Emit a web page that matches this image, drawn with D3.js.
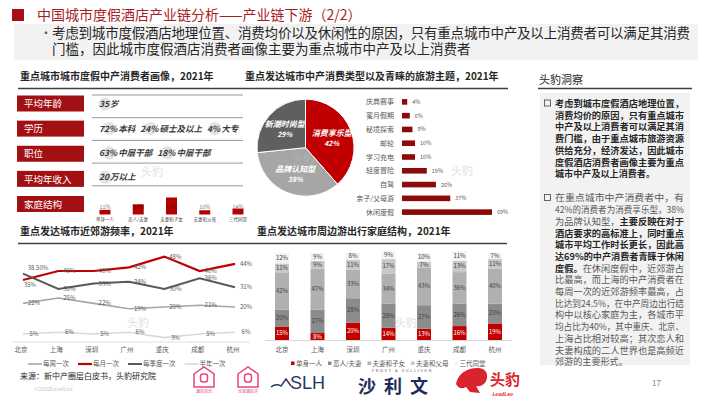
<!DOCTYPE html>
<html>
<head>
<meta charset="utf-8">
<script src="https://cdn.jsdelivr.net/npm/d3@7"></script>
<style>
  body { margin: 0; background: #fff; }
  svg { display: block; font-family: "Noto Sans CJK SC", "Noto Sans", sans-serif; }
</style>
</head>
<body>
<svg id="chart" width="710" height="399"></svg>
<script>
// ---- data ----
const headerTitle = '中国城市度假酒店产业链分析——产业链下游（2/2）';
const headerLines = [
  '考虑到城市度假酒店地理位置、消费均价以及休闲性的原因，只有重点城市中产及以上消费者可以满足其消费',
  '门槛，因此城市度假酒店消费者画像主要为重点城市中产及以上消费者'
];

const profileFields = ['平均年龄', '学历', '职位', '平均年收入', '家庭结构'];
// even index = number (circled), odd index = words
const profileFacts = [
  ['35', '岁'],
  ['72%', '本科', '24%', '硕士及以上', '4%', '大专'],
  ['63%', '中层干部', '18%', '中层干部'],
  ['20', '万以上']
];
const familyTypes = ['单身一人', '恋人/夫妻', '夫妻和子女', '夫妻和父母', '三代同堂'];
const familyShare = [11, 24, 40, 10, 14];

const consumerTypes = ['消费享乐型', '品牌认知型', '新潮时尚型'];
const consumerShare = [42, 38, 29];

const themeNames = ['庆典赛事', '蜜月假期', '秘境探索', '邮轮', '学习充电', '轻度冒险', '自驾', '亲子/父母游', '休闲度假'];
const themeShare = [4, 6, 8, 10, 10, 19, 26, 37, 69];

const cities = ['北京', '上海', '深圳', '广州', '重庆', '成都', '杭州'];
const freqNames = ['每周一次', '每月一次', '每季度一次', '半年一次'];
const weekly = [22, 25, 22, 19, 20, 21, 20];
const monthly = [35, 40, 40, 42, 48, 40, 44];
const quarterly = [38.5, 30, 33, 34, 30, 36, 31];
const halfYear = [5, 6, 5, 6, 3, 5, 6];

const single = [15, 8, 20, 14, 13, 16, 19];
const couple = [20, 27, 28, 28, 27, 26, 23];
const withKids = [42, 47, 33, 34, 43, 36, 40];
const withParents = [11, 9, 11, 17, 7, 13, 11];
const threeGen = [12, 9, 8, 9, 10, 11, 7];

const insightTitle = '头豹洞察';
const insightParas = [
  [
    [['考虑到城市度假酒店地理位置，', 1]],
    [['消费均价的原因，只有重点城市', 1]],
    [['中产及以上消费者可以满足其消', 1]],
    [['费门槛，由于重点城市旅游资源', 1]],
    [['供给充分，经济发达，因此城市', 1]],
    [['度假酒店消费者画像主要为重点', 1]],
    [['城市中产及以上消费者。', 1]]
  ],
  [
    [['在重点城市中产消费者中，有', 0]],
    [['42%的消费者为消费享乐型，38%', 0]],
    [['为品牌认知型，', 0], ['主要反映在对于', 1]],
    [['酒店要求的高标准上，同时重点', 1]],
    [['城市平均工作时长更长，因此高', 1]],
    [['达69%的中产消费者青睐于休闲', 1]],
    [['度假。', 1], ['在休闲度假中，近郊游占', 0]],
    [['比最高，而上海的中产消费者在', 0]],
    [['每周一次的近郊游频率最高，占', 0]],
    [['比达到24.5%，在中产周边出行结', 0]],
    [['构中以核心家庭为主，各城市平', 0]],
    [['均占比为40%，其中重庆、北京、', 0]],
    [['上海占比相对较高；其次恋人和', 0]],
    [['夫妻构成的二人世界也是高频近', 0]],
    [['郊游的主要形式。', 0]]
  ]
];
const sourceNote = '来源：新中产圈层白皮书，头豹研究院';

// ---- drawing ----
const svg = d3.select('#chart');
const DARKRED = '#a31014';

// header
svg.append('rect').attr('x', 12).attr('y', 9).attr('width', 12).attr('height', 12).attr('fill', '#a50f15');
svg.append('text').attr('x', 37).attr('y', 20).attr('font-size', 14).attr('fill', '#a61c23').text(headerTitle);
svg.append('rect').attr('x', 14).attr('y', 24).attr('width', 684).attr('height', 36).attr('fill', '#f2f2f2');
svg.append('text').attr('x', 40).attr('y', 38).attr('font-size', 12).attr('fill', '#595959').text('•');
headerLines.forEach((t, i) => {
  const el = svg.append('text').attr('x', 52).attr('y', 38 + i * 16)
    .attr('font-size', 13.5).attr('fill', '#262626').text(t);
  if (i === 0) el.attr('textLength', 638).attr('lengthAdjust', 'spacing');
});

// section titles and rules
function section(x, y, w, title) {
  svg.append('text').attr('x', x + 2).attr('y', y).attr('font-size', 10).attr('font-weight', 'bold')
    .attr('fill', '#262626').text(title);
  svg.append('line').attr('x1', x).attr('x2', x + w).attr('y1', y + 8.5).attr('y2', y + 8.5)
    .attr('stroke', '#404040').attr('stroke-width', 1.5);
}
section(18, 80, 225, '重点城市城市度假中产消费者画像，2021年');
section(243, 80, 265, '重点发达城市中产消费类型以及青睐的旅游主题，2021年');
section(18, 235, 237, '重点发达城市近郊游频率，2021年');
section(255, 235, 252, '重点发达城市周边游出行家庭结构，2021年');

// ---- profile panel ----
const rowY = d3.scalePoint().domain(profileFields).range([95.5, 196]);
profileFields.forEach((f, i) => {
  svg.append('line').attr('x1', 92).attr('x2', 243).attr('y1', 95 + i * 22.7).attr('y2', 95 + i * 22.7)
    .attr('stroke', '#7f7f7f').attr('stroke-width', 0.8);
});
const rows = svg.append('g').selectAll('g').data(profileFields).join('g')
  .attr('transform', d => `translate(17,${rowY(d)})`);
rows.append('rect').attr('width', 67).attr('height', 16).attr('fill', DARKRED);
rows.append('text').attr('x', 7).attr('y', 11.7).attr('font-size', 9.5).attr('fill', '#fff').text(d => d);

profileFacts.forEach((pieces, i) => {
  const cy = rowY(profileFields[i]) + 8.5 - i * 0.7;
  let x = 99;
  pieces.forEach((p, j) => {
    const g = svg.append('g');
    const t = g.append('text').attr('x', x).attr('y', cy + 3.2).attr('font-size', 8.5)
      .attr('font-weight', 'bold').attr('font-style', 'italic').attr('fill', '#3a3a3a').text(p);
    const w = t.node().getComputedTextLength();
    if (j % 2 === 0) {
      g.insert('circle', 'text').attr('cx', x + w / 2 + 1).attr('cy', cy).attr('r', 6.5).attr('fill', '#e3e3e3');
      x += w + 1;
    } else {
      x += w + 5;
    }
  });
});

// family mini bars
const famX = d3.scalePoint().domain(familyTypes).range([105, 238]);
const famY = d3.scaleLinear().domain([0, 40]).range([214.5, 197.5]);
const fam = svg.append('g').selectAll('g').data(familyTypes).join('g');
fam.append('rect').attr('x', d => famX(d) - 5.5).attr('width', 11)
  .attr('y', (d, i) => famY(familyShare[i])).attr('height', (d, i) => famY(0) - famY(familyShare[i]))
  .attr('fill', '#b30000');
fam.append('text').attr('x', d => famX(d)).attr('y', 209).attr('text-anchor', 'middle').attr('font-size', 5.5)
  .attr('fill', (d, i) => famY(familyShare[i]) < 205 ? '#7a0000' : '#7f7f7f').text((d, i) => familyShare[i] + '%');
fam.append('text').attr('x', d => famX(d)).attr('y', 221).attr('text-anchor', 'middle').attr('font-size', 4.5)
  .attr('fill', '#404040').text(d => d);

// ---- pie ----
const pie = d3.pie().sort(null)(consumerShare);
const arc = d3.arc().innerRadius(0).outerRadius(48.5);
const labelArc = d3.arc().innerRadius(28).outerRadius(28);
const pieColors = ['#c00000', '#a6a6a6', '#5f5f5f'];
const pg = svg.append('g').attr('transform', 'translate(305.5,147.7)');
pg.selectAll('path').data(pie).join('path').attr('d', arc)
  .attr('fill', (d, i) => pieColors[i]).attr('stroke', '#fff').attr('stroke-width', 1);
const pl = pg.selectAll('g.lab').data(pie).join('g').attr('class', 'lab')
  .attr('transform', d => `translate(${labelArc.centroid(d)})`);
pl.append('text').attr('text-anchor', 'middle').attr('y', -2).attr('font-size', 8).attr('font-style', 'italic')
  .attr('font-weight', 'bold').attr('fill', '#fff').text((d, i) => consumerTypes[i]);
pl.append('text').attr('text-anchor', 'middle').attr('y', 8).attr('font-size', 7).attr('font-style', 'italic')
  .attr('font-weight', 'bold').attr('fill', '#fff').text(d => d.data + '%');

// ---- theme bars ----
const thY = d3.scaleBand().domain(themeNames).range([95, 219]);
const thX = d3.scaleLinear().domain([0, 69]).range([402, 492]);
const th = svg.append('g').selectAll('g').data(themeNames).join('g')
  .attr('transform', d => `translate(0,${thY(d) + thY.bandwidth() / 2})`);
th.append('text').attr('x', 394).attr('y', 2.5).attr('text-anchor', 'end').attr('font-size', 7)
  .attr('fill', '#595959').text(d => d);
th.append('rect').attr('x', thX(0)).attr('y', -2.8).attr('height', 5.6)
  .attr('width', (d, i) => thX(themeShare[i]) - thX(0)).attr('fill', '#8b0a0a');
th.append('text').attr('x', (d, i) => thX(themeShare[i]) + 5).attr('y', 2).attr('font-size', 5.5)
  .attr('fill', '#595959').text((d, i) => themeShare[i] + '%');

// ---- line chart ----
const lx = d3.scalePoint().domain(cities).range([23, 235]);
const ly = d3.scaleLinear().domain([0, 50]).range([343, 253]);
svg.append('line').attr('x1', 12).attr('x2', 250).attr('y1', 342).attr('y2', 342).attr('stroke', '#e0e0e0');
const series = [
  { name: freqNames[0], values: weekly, color: '#a6a6a6', w: 1.6 },
  { name: freqNames[1], values: monthly, color: '#c00000', w: 2.2 },
  { name: freqNames[2], values: quarterly, color: '#595959', w: 2 },
  { name: freqNames[3], values: halfYear, color: '#d9d9d9', w: 1.6 }
];
const line = d3.line().x((d, i) => lx(cities[i])).y(d => ly(d));
const fmt = v => (v % 1 ? v.toFixed(2) : v) + '%';
series.forEach(s => {
  svg.append('path').attr('d', line(s.values)).attr('fill', 'none')
    .attr('stroke', s.color).attr('stroke-width', s.w);
});
series.forEach(s => {
  svg.append('g').selectAll('text').data(s.values).join('text')
    .attr('x', (d, i) => lx(cities[i]) + (i === 0 && s.name === '每季度一次' ? 15 : i === 0 && s.name === '每月一次' ? 7 : 11))
    .attr('y', (d, i) => ly(d) + 2 + (i === 0 && s.name === '每季度一次' ? -6 : i === 0 && s.name === '每月一次' ? 5 : 0))
    .attr('text-anchor', 'middle').attr('font-size', 6).attr('fill', '#595959').text(fmt);
});
svg.append('g').selectAll('text').data(cities).join('text')
  .attr('x', d => lx(d) - 2).attr('y', 352).attr('text-anchor', 'middle').attr('font-size', 6.5)
  .attr('fill', '#595959').text(d => d);
let lgx = 28;
series.forEach(s => {
  svg.append('line').attr('x1', lgx).attr('x2', lgx + 14).attr('y1', 364).attr('y2', 364)
    .attr('stroke', s.color).attr('stroke-width', s.w);
  const t = svg.append('text').attr('x', lgx + 15).attr('y', 366.3).attr('font-size', 6.5)
    .attr('fill', '#595959').text(s.name);
  lgx += 15 + t.node().getComputedTextLength() + 9;
});

// ---- stacked bars ----
const famKeys = familyTypes;
const famCols = [single, couple, withKids, withParents, threeGen];
const famColors = ['#c00000', '#8c8c8c', '#b0b0b0', '#c8c8c8', '#f2f2f2'];
const famRows = cities.map((c, i) => {
  const r = { city: c };
  famKeys.forEach((k, j) => { r[k] = famCols[j][i]; });
  return r;
});
const stacked = d3.stack().keys(famKeys)(famRows);
const sx = d3.scalePoint().domain(cities).range([282, 495]);
const sy = d3.scaleLinear().domain([0, 100]).range([340, 253]);
svg.append('line').attr('x1', 265).attr('x2', 512).attr('y1', 340.5).attr('y2', 340.5).attr('stroke', '#d9d9d9');
stacked.forEach((layer, j) => {
  const g = svg.append('g');
  g.selectAll('rect').data(layer).join('rect')
    .attr('x', d => sx(d.data.city) - 7).attr('width', 14)
    .attr('y', d => sy(d[1])).attr('height', d => sy(d[0]) - sy(d[1]))
    .attr('fill', famColors[j]);
  g.selectAll('text').data(layer).join('text')
    .attr('x', d => sx(d.data.city)).attr('y', d => (sy(d[0]) + sy(d[1])) / 2 + 2)
    .attr('text-anchor', 'middle').attr('font-size', 6)
    .attr('fill', j === 0 ? '#fff' : '#404040').text(d => (d[1] - d[0]) + '%');
});
svg.append('g').selectAll('text').data(cities).join('text')
  .attr('x', d => sx(d)).attr('y', 352).attr('text-anchor', 'middle').attr('font-size', 6.5)
  .attr('fill', '#595959').text(d => d);
let sgx = 291;
famKeys.forEach((k, j) => {
  svg.append('rect').attr('x', sgx).attr('y', 361.5).attr('width', 3.5).attr('height', 3.5).attr('fill', famColors[j]);
  const t = svg.append('text').attr('x', sgx + 5).attr('y', 366.3).attr('font-size', 6.5)
    .attr('fill', '#595959').text(k);
  sgx += 5 + t.node().getComputedTextLength() + 6;
});

// ---- insight panel ----
svg.append('text').attr('x', 539).attr('y', 84).attr('font-size', 11).attr('fill', '#262626').text(insightTitle);
svg.append('line').attr('x1', 538).attr('x2', 692).attr('y1', 88.5).attr('y2', 88.5).attr('stroke', '#404040').attr('stroke-width', 1.5);
svg.append('rect').attr('x', 540).attr('y', 93).attr('width', 150).attr('height', 272).attr('fill', '#f2f2f2');
let iy = 107;
insightParas.forEach((para, p) => {
  if (p > 0) iy += 12.5;
  svg.append('rect').attr('x', 544.5).attr('y', iy - 7).attr('width', 6).attr('height', 6)
    .attr('fill', 'none').attr('stroke', '#404040').attr('stroke-width', 0.8);
  para.forEach((segs, k) => {
    const t = svg.append('text').attr('x', 555).attr('y', iy).attr('font-size', 9.1);
    segs.forEach(([s, b]) => {
      t.append('tspan').attr('font-weight', b ? 'bold' : 'normal')
        .attr('fill', b ? '#262626' : '#595959').text(s);
    });
    // justify every line except the last one of a paragraph
    if (k < para.length - 1) t.attr('textLength', 129).attr('lengthAdjust', 'spacingAndGlyphs');
    iy += 11.7;
  });
});

// ---- footer ----
svg.append('text').attr('x', 20).attr('y', 379).attr('font-size', 8).attr('fill', '#262626').text(sourceNote);
svg.append('text').attr('x', 34).attr('y', 391).attr('font-size', 5.5).attr('fill', '#c8c8c8').text('©2022LeadLeo');
svg.append('text').attr('x', 652).attr('y', 386).attr('font-size', 8).attr('fill', '#7f7f7f').text('17');

// pink app icons
[204, 248].forEach((cx, i) => {
  const g = svg.append('g').attr('transform', `translate(${cx},366)`).attr('fill', 'none').attr('stroke', '#e8457a').attr('stroke-width', 1.5);
  g.append('path').attr('d', 'M-10,8 L0,1 L10,8 L10,21 L-10,21 Z');
  g.append('rect').attr('x', -3.5).attr('y', 8).attr('width', 7).attr('height', 8).attr('rx', 2.5);
  g.append('text').attr('x', 0).attr('y', 27).attr('text-anchor', 'middle').attr('font-size', 4)
    .attr('stroke', 'none').attr('fill', '#e8457a').text(i ? '全球酒店评' : '酒店资讯');
});
// SLH
svg.append('path').attr('d', 'M271,387 Q276,383 281,386 L286,379 L291,386').attr('fill', 'none')
  .attr('stroke', '#1f3a60').attr('stroke-width', 1.4);
svg.append('text').attr('x', 290).attr('y', 389).attr('font-size', 18).attr('font-family', 'Liberation Sans, Arial')
  .attr('fill', '#1f3a60').text('SLH');
// Frost & Sullivan
svg.append('text').attr('x', 372).attr('y', 372).attr('font-size', 4).attr('letter-spacing', 1.6)
  .attr('fill', '#555').text('FROST & SULLIVAN');
svg.append('text').attr('x', 358).attr('y', 393).attr('font-size', 18).attr('font-weight', 'bold')
  .attr('letter-spacing', 8).attr('fill', '#1f2d5a').text('沙利文');
// LeadLeo
svg.append('path').attr('d', 'M456,384 C458,374 466,368 478,368 C484,368 488,372 487,378 C486,384 481,387 476,386 L480,393 L470,392 L466,387 C462,389 459,389 456,384 Z')
  .attr('fill', '#d9232e');
svg.append('text').attr('x', 490).attr('y', 385).attr('font-size', 15).attr('font-weight', 'bold')
  .attr('fill', '#d9232e').text('头豹');
svg.append('text').attr('x', 492).attr('y', 396).attr('font-size', 5).attr('font-style', 'italic')
  .attr('font-weight', 'bold').attr('fill', '#d9232e').text('LeadLeo');

// watermarks
[[138, 327], [303, 163], [462, 175], [406, 327], [152, 176]].forEach(([x, y]) => {
  svg.append('text').attr('x', x).attr('y', y).attr('text-anchor', 'middle').attr('font-size', 11)
    .attr('fill', '#bdbdbd').attr('opacity', 0.45).text('头豹');
});
</script>
</body>
</html>
